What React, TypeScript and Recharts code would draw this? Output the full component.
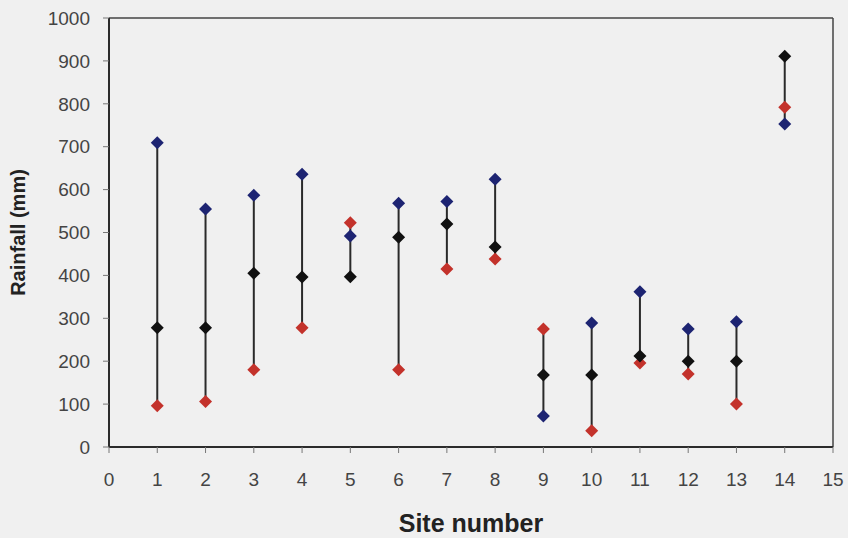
import React from 'react';
import { ScatterChart, Scatter, XAxis, YAxis, ReferenceLine } from 'recharts';

const sites = [1, 2, 3, 4, 5, 6, 7, 8, 9, 10, 11, 12, 13, 14];
const blueValues = [709, 555, 587, 636, 492, 568, 572, 624, 72, 289, 362, 275, 292, 753];
const blackValues = [278, 278, 405, 396, 397, 489, 520, 466, 168, 168, 212, 200, 200, 911];
const redValues = [96, 106, 180, 278, 523, 180, 415, 438, 275, 38, 196, 170, 100, 792];
const xTicks = [0, 1, 2, 3, 4, 5, 6, 7, 8, 9, 10, 11, 12, 13, 14, 15];
const yTicks = [0, 100, 200, 300, 400, 500, 600, 700, 800, 900, 1000];

const BLUE = '#1d2472';
const BLACK = '#111111';
const RED = '#c3322b';
const BG = '#f0f0f0';

const toPoints = (vals: number[]) => sites.map((s, i) => ({ x: s, y: vals[i] }));
const blueData = toPoints(blueValues);
const blackData = toPoints(blackValues);
const redData = toPoints(redValues);
const rangeData = sites.map((s, i) => {
  const v = [blueValues[i], blackValues[i], redValues[i]];
  return [
    { x: s, y: Math.min(...v) },
    { x: s, y: Math.max(...v) },
  ];
});

const Diamond = (props: any) => {
  const { cx, cy, fill } = props;
  if (cx == null || cy == null) return <g />;
  const r = 6.5;
  return (
    <polygon
      points={`${cx},${cy - r} ${cx + r},${cy} ${cx},${cy + r} ${cx - r},${cy}`}
      fill={fill}
    />
  );
};

const Empty = () => <g />;

export default function App() {
  return (
    <div style={{ position: 'absolute', left: 0, top: 0, width: 848, height: 538, background: BG }}>
      <ScatterChart
        width={848}
        height={538}
        margin={{ top: 18, right: 15, bottom: 0, left: 0 }}
        style={{ fontFamily: 'Liberation Sans, Arial, sans-serif' }}
      >
        <XAxis
          type="number"
          dataKey="x"
          domain={[0, 15]}
          ticks={xTicks}
          interval={0}
          height={91}
          tickSize={6}
          tickMargin={20}
          axisLine={{ stroke: '#2b2b2b', strokeWidth: 2 }}
          tickLine={{ stroke: '#777', strokeWidth: 1 }}
          tick={{ fill: '#444', fontSize: 19 }}
          label={{
            value: 'Site number',
            position: 'insideBottom',
            offset: 6,
            style: { fill: '#222', fontSize: 25, fontWeight: 'bold' },
          }}
        />
        <YAxis
          type="number"
          dataKey="y"
          domain={[0, 1000]}
          ticks={yTicks}
          interval={0}
          width={109}
          tickSize={6}
          tickMargin={13}
          axisLine={{ stroke: '#2b2b2b', strokeWidth: 2 }}
          tickLine={{ stroke: '#777', strokeWidth: 1 }}
          tick={{ fill: '#444', fontSize: 19 }}
          label={{
            value: 'Rainfall (mm)',
            angle: -90,
            position: 'insideLeft',
            offset: 18,
            style: { fill: '#222', fontSize: 20, fontWeight: 'bold', textAnchor: 'middle' },
          }}
        />
        <ReferenceLine y={1000} stroke="#444" strokeWidth={1.5} />
        <ReferenceLine x={15} stroke="#444" strokeWidth={1.5} />
        {rangeData.map((d, i) => (
          <Scatter
            key={'r' + i}
            data={d}
            line={{ stroke: '#2a2a2a', strokeWidth: 2 }}
            shape={Empty}
            isAnimationActive={false}
          />
        ))}
        <Scatter data={redData} fill={RED} shape={Diamond} isAnimationActive={false} />
        <Scatter data={blueData} fill={BLUE} shape={Diamond} isAnimationActive={false} />
        <Scatter data={blackData} fill={BLACK} shape={Diamond} isAnimationActive={false} />
      </ScatterChart>
    </div>
  );
}
